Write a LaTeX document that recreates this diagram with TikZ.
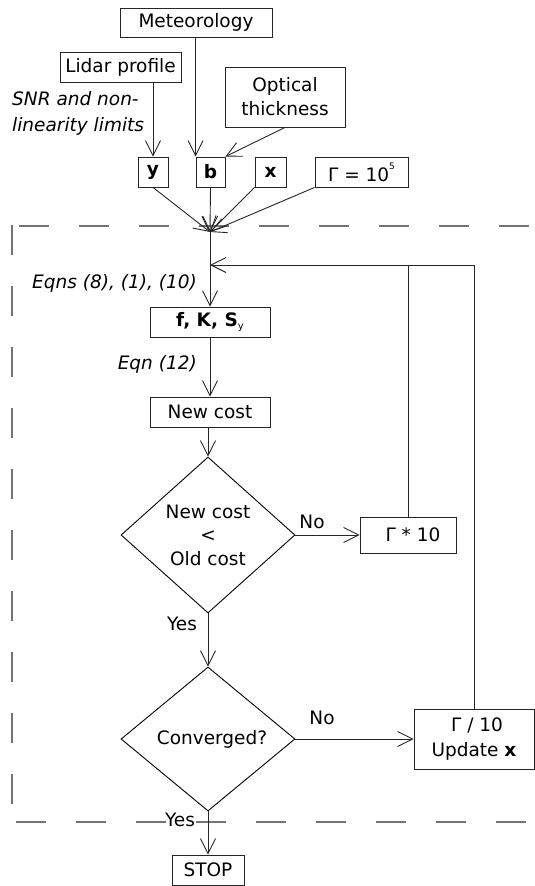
\documentclass[tikz,border=0pt]{standalone}
\usepackage{fontspec}
\setmainfont{DejaVu Sans}
\usetikzlibrary{arrows.meta,shapes.geometric,calc}
\begin{document}
\begin{tikzpicture}[x=1pt,y=-1pt,
  font=\fontsize{18.5}{22}\selectfont,
  box/.style={draw=black!85,line width=0.9pt,inner sep=0pt,anchor=center},
  dia/.style={draw=black,line width=0.9pt,shape=diamond,inner sep=0pt,align=center},
  arr/.style={draw=black!85,line width=0.9pt,-{Straight Barb[length=15pt,width=15pt,line width=0.9pt]}},
  conn/.style={draw=black!85,line width=0.9pt},
  lbl/.style={inner sep=0pt,font=\fontsize{18.5}{26}\selectfont\itshape},
  txt/.style={inner sep=0pt},
  dashline/.style={draw=black!55,line width=1.3pt,dash pattern=on 30pt off 30pt}
]
\useasboundingbox (0,0) rectangle (535,886);

% dashed frame
\draw[dashline] (19,226) -- (530,226);
\draw[dashline,dash pattern=on 30pt off 31pt] (12,225) -- (12,805);
\draw[dashline] (16,822) -- (530,822);

% input boxes
\node[box,minimum width=152pt,minimum height=29pt] (met) at (196,22.5) {Meteorology};
\node[box,minimum width=121pt,minimum height=30pt] (lidar) at (120.5,67) {Lidar profile};
\node[box,minimum width=120pt,minimum height=60pt,align=center,font=\fontsize{18.5}{24}\selectfont] (opt) at (285,97) {Optical\\thickness};
\node[lbl,anchor=west,align=left] (snr) at (12,113) {SNR and non-\\linearity limits};

\node[box,minimum width=30pt,minimum height=30pt] (ny) at (153,172) {\textbf{y}};
\node[box,minimum width=29pt,minimum height=30pt] (nb) at (210.5,172) {\textbf{b}};
\node[box,minimum width=31pt,minimum height=30pt] (nx) at (270.5,172) {\textbf{x}};
\node[box,minimum width=93pt,minimum height=30pt] (ng) at (361.5,172) {Γ = 10\raisebox{12pt}{\fontsize{9}{9}\selectfont 5}};

\coordinate (conv) at (210,232);
\coordinate (fb) at (210,265);

% main column
\node[box,minimum width=120pt,minimum height=30pt] (fks) at (210,322) {\textbf{f, K, S}\raisebox{-3pt}{\fontsize{10}{10}\selectfont y}};
\node[box,minimum width=120pt,minimum height=30pt] (newcost) at (210,412) {New cost};
\node[dia,minimum width=174pt,minimum height=156pt,font=\fontsize{18.5}{23.5}\selectfont] (d1) at (208,535) {New cost\\<\\Old cost};
\node[box,minimum width=96pt,minimum height=36pt] (g10) at (408,535) {\hspace{10pt}Γ * 10};
\node[dia,minimum width=174pt,minimum height=144pt] (d2) at (208,739) {\hspace{8pt}Converged?};
\node[box,minimum width=120pt,minimum height=60pt,align=center,font=\fontsize{18.5}{25}\selectfont] (gd) at (474,739) {\hspace{6pt}Γ / 10\\Update \textbf{x}};
\node[box,minimum width=72pt,minimum height=30pt] (stop) at (208,870) {STOP};

% labels
\node[lbl,anchor=east] (eqns) at (197,283) {Eqns (8), (1), (10)};
\node[lbl,anchor=east] (eqn12) at (197,364) {Eqn (12)};
\node[txt] (no1) at (312,522) {No};
\node[txt] (no2) at (322,718) {No};
\node[txt] (yes1) at (182,624) {Yes};
\node[txt] (yes2) at (180,820) {Yes};

% connectors top
\draw[arr] (nb.north west |- met.south) -- (nb.north west);
\draw[arr] (ny.north |- lidar.south) -- (ny.north);
\draw[arr] (opt.south) -- (nb.north east);
\draw[arr] (ny.south) -- (conv);
\draw[arr] (nb.south) -- (conv);
\draw[arr] (nx.south west) -- (conv);
\draw[arr] (ng.south west) -- (conv);

% main flow
\draw[arr] (conv) -- (fks.north);
\draw[arr] (fks.south) -- (newcost.north);
\draw[arr] (newcost.south -| d1.north) -- (d1.north);
\draw[arr] (d1.east) -- (g10.west);
\draw[arr] (d1.south) -- (d2.north);
\draw[arr] (d2.east) -- (gd.west);
\draw[arr] (d2.south) -- (stop.north);

% feedback
\draw[conn] (g10.north) -- (g10.north |- fb);
\draw[arr] (gd.north) |- (fb);
\end{tikzpicture}
\end{document}
